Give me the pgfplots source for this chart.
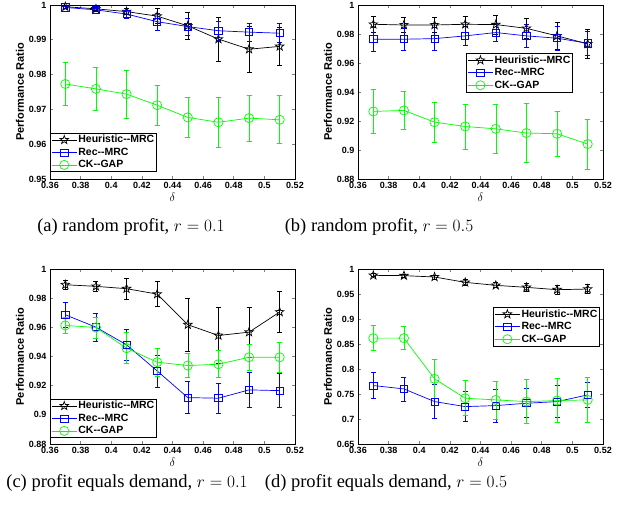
\documentclass[border=0pt]{standalone}
\usepackage{fontspec}
\setmainfont{Liberation Serif}
\newfontfamily\hv{Liberation Sans}
\usepackage{pgfplots}
\usepackage{pgfplotstable}
\pgfplotsset{compat=1.18}

\definecolor{mblue}{rgb}{0,0,1}
\definecolor{mgreen}{rgb}{0,1,0}

% open five-pointed star, as matlab's 'p'
\pgfdeclareplotmark{pentagram}{%
  \pgfpathmoveto{\pgfpointpolar{90}{\pgfplotmarksize}}%
  \pgfpathlineto{\pgfpointpolar{126}{0.4\pgfplotmarksize}}%
  \pgfpathlineto{\pgfpointpolar{162}{\pgfplotmarksize}}%
  \pgfpathlineto{\pgfpointpolar{198}{0.4\pgfplotmarksize}}%
  \pgfpathlineto{\pgfpointpolar{234}{\pgfplotmarksize}}%
  \pgfpathlineto{\pgfpointpolar{270}{0.4\pgfplotmarksize}}%
  \pgfpathlineto{\pgfpointpolar{306}{\pgfplotmarksize}}%
  \pgfpathlineto{\pgfpointpolar{342}{0.4\pgfplotmarksize}}%
  \pgfpathlineto{\pgfpointpolar{18}{\pgfplotmarksize}}%
  \pgfpathlineto{\pgfpointpolar{54}{0.4\pgfplotmarksize}}%
  \pgfpathclose
  \pgfusepathqstroke
}

% x, heuristic-MRC, rec-MRC, CK-GAP with their std errors
\pgfplotstableread{
x    h      he     r      re     g      ge
0.37 0.9995 0.0005 0.9993 0.0003 0.9773 0.0061
0.39 0.9989 0.0004 0.9986 0.0003 0.9759 0.0063
0.41 0.9981 0.0008 0.9974 0.0012 0.9744 0.0069
0.43 0.9968 0.0021 0.9952 0.0024 0.9712 0.0058
0.45 0.9940 0.0039 0.9938 0.0025 0.9677 0.0057
0.47 0.9902 0.0063 0.9926 0.0027 0.9663 0.0071
0.49 0.9873 0.0067 0.9922 0.0026 0.9675 0.0066
0.51 0.9881 0.0055 0.9919 0.0027 0.9670 0.0069
}\dataA
\pgfplotstableread{
x    h      he     r      re     g      ge
0.37 0.9867 0.0053 0.9764 0.0081 0.9266 0.0154
0.39 0.9862 0.0053 0.9764 0.0078 0.9273 0.0130
0.41 0.9862 0.0053 0.9768 0.0078 0.9192 0.0137
0.43 0.9867 0.0057 0.9787 0.0067 0.9162 0.0155
0.45 0.9865 0.0067 0.9810 0.0064 0.9146 0.0166
0.47 0.9839 0.0069 0.9787 0.0080 0.9117 0.0202
0.49 0.9787 0.0092 0.9771 0.0085 0.9112 0.0155
0.51 0.9732 0.0099 0.9736 0.0085 0.9041 0.0173
}\dataB
\pgfplotstableread{
x    h      he     r      re     g      ge
0.37 0.9892 0.0030 0.9686 0.0085 0.9613 0.0053
0.39 0.9881 0.0034 0.9601 0.0094 0.9599 0.0072
0.41 0.9865 0.0073 0.9480 0.0103 0.9457 0.0106
0.43 0.9828 0.0087 0.9301 0.0110 0.9361 0.0097
0.45 0.9618 0.0183 0.9118 0.0110 0.9338 0.0084
0.47 0.9544 0.0193 0.9114 0.0103 0.9347 0.0093
0.49 0.9567 0.0170 0.9171 0.0117 0.9395 0.0090
0.51 0.9705 0.0142 0.9166 0.0117 0.9395 0.0103
}\dataC
\pgfplotstableread{
x    h      he     r      re     g      ge
0.37 0.9873 0.0030 0.7669 0.0260 0.8617 0.0247
0.39 0.9867 0.0030 0.7602 0.0240 0.8617 0.0234
0.41 0.9840 0.0040 0.7348 0.0340 0.7803 0.0384
0.43 0.9733 0.0067 0.7248 0.0300 0.7415 0.0350
0.45 0.9673 0.0050 0.7268 0.0330 0.7382 0.0380
0.47 0.9633 0.0073 0.7315 0.0290 0.7348 0.0440
0.49 0.9586 0.0087 0.7348 0.0320 0.7368 0.0440
0.51 0.9599 0.0087 0.7482 0.0250 0.7382 0.0450
}\dataD

\pgfplotsset{
  panel/.style={
    scale only axis, width=245pt, height=174pt,
    xmin=0.36, xmax=0.52,
    xtick={0.36,0.38,0.4,0.42,0.44,0.46,0.48,0.5,0.52},
    tick align=inside,
    axis line style={line width=0.9pt},
    major tick style={line width=0.6pt},
    major tick length=3pt,
    /pgf/number format/assume math mode=true,
    /pgf/number format/fixed,
    /pgf/number format/precision=2,
    ticklabel style={font=\hv\bfseries\fontsize{9}{9}\selectfont},
    xlabel={$\delta$},
    xlabel style={font=\fontsize{12}{12}\selectfont, yshift=3pt},
    ylabel={Performance Ratio},
    ylabel style={font=\hv\bfseries\fontsize{11}{11}\selectfont, yshift=-2pt},
    legend cell align=left,
    legend style={font=\hv\bfseries\fontsize{10.5}{12}\selectfont,
      draw=black, line width=0.8pt, inner sep=1pt, row sep=1pt,
      nodes={inner sep=1.3pt}},
    legend image code/.code={%
      \draw[mark repeat=2,mark phase=2,#1]
        plot coordinates {(0pt,0pt)(12.5pt,0pt)(25pt,0pt)};},
    every axis plot/.append style={line width=0.7pt},
    error bars/y dir=both,
    error bars/y explicit,
    error bars/error mark options={mark size=2.5pt, line width=0.7pt, rotate=90},
  },
  heu/.style={black, mark=pentagram, mark size=4.5pt, mark options={solid}},
  rec/.style={mblue, mark=square, mark size=3.6pt},
  ckg/.style={mgreen, mark=o, mark size=4.6pt},
}

\begin{document}
\begin{tikzpicture}
\useasboundingbox (0pt,0pt) rectangle (635pt,506pt);

% (a)
\begin{axis}[panel, at={(50pt,327pt)}, anchor=south west,
  ymin=0.95, ymax=1, ytick={0.95,0.96,0.97,0.98,0.99,1},
  legend style={at={(0,0.04)}, anchor=south west}]
\addplot[heu] table[x=x, y=h, y error=he] {\dataA};
\addplot[rec] table[x=x, y=r, y error=re] {\dataA};
\addplot[ckg] table[x=x, y=g, y error=ge] {\dataA};
\legend{Heuristic--MRC, Rec--MRC, CK--GAP}
\end{axis}

% (b)
\begin{axis}[panel, at={(358pt,327pt)}, anchor=south west,
  ymin=0.88, ymax=1, ytick={0.88,0.9,0.92,0.94,0.96,0.98,1},
  legend style={at={(0.878,0.724)}, anchor=north east}]
\addplot[heu] table[x=x, y=h, y error=he] {\dataB};
\addplot[rec] table[x=x, y=r, y error=re] {\dataB};
\addplot[ckg] table[x=x, y=g, y error=ge] {\dataB};
\legend{Heuristic--MRC, Rec--MRC, CK--GAP}
\end{axis}

% (c)
\begin{axis}[panel, at={(50pt,62pt)}, anchor=south west, height=175pt,
  ymin=0.88, ymax=1, ytick={0.88,0.9,0.92,0.94,0.96,0.98,1},
  legend style={at={(0,0.034)}, anchor=south west}]
\addplot[heu] table[x=x, y=h, y error=he] {\dataC};
\addplot[rec] table[x=x, y=r, y error=re] {\dataC};
\addplot[ckg] table[x=x, y=g, y error=ge] {\dataC};
\legend{Heuristic--MRC, Rec--MRC, CK--GAP}
\end{axis}

% (d)
\begin{axis}[panel, at={(358pt,62pt)}, anchor=south west, height=175pt,
  ymin=0.65, ymax=1, ytick={0.65,0.7,0.75,0.8,0.85,0.9,0.95,1},
  legend style={at={(0.988,0.783)}, anchor=north east}]
\addplot[heu] table[x=x, y=h, y error=he] {\dataD};
\addplot[rec] table[x=x, y=r, y error=re] {\dataD};
\addplot[ckg] table[x=x, y=g, y error=ge] {\dataD};
\legend{Heuristic--MRC, Rec--MRC, CK--GAP}
\end{axis}

\begin{scope}[every node/.style={font=\fontsize{18.5}{18.5}\selectfont}]
\node at (131pt,279pt) {(a) random profit, $r = 0.1$};
\node at (379pt,279pt) {(b) random profit, $r = 0.5$};
\node at (127pt,23pt) {(c) profit equals demand, $r = 0.1$};
\node at (386pt,23pt) {(d) profit equals demand, $r = 0.5$};
\end{scope}
\end{tikzpicture}
\end{document}
